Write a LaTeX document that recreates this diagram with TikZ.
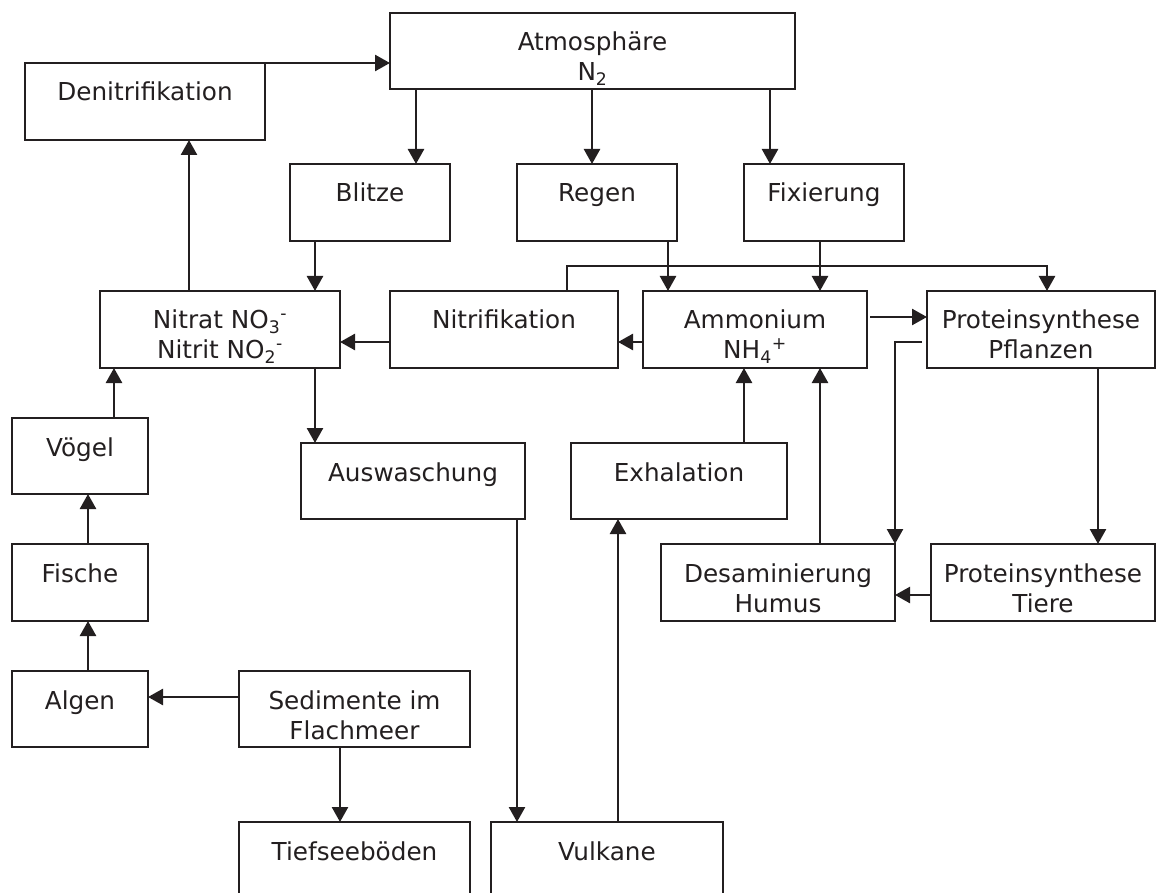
\documentclass[tikz,border=0pt]{standalone}
\usepackage{fontspec}
\setmainfont{DejaVu Sans}
\usetikzlibrary{arrows.meta}
\definecolor{ink}{HTML}{231F20}
\newcommand\bx[6]{%
  \node[box, minimum width={#4-#2}, minimum height={#5-#3}, anchor=north west] (#1) at (#2,#3) {};
  \node[txt] (#1-a) at ({(#2+#4)/2},{#3+38}) {#6};}
\newcommand\bxx[7]{%
  \node[box, minimum width={#4-#2}, minimum height={#5-#3}, anchor=north west] (#1) at (#2,#3) {};
  \node[txt] (#1-a) at ({(#2+#4)/2},{#3+38}) {#6};
  \node[txt] (#1-b) at ({(#2+#4)/2},{#3+68}) {#7};}
\begin{document}
\begin{tikzpicture}[x=1pt,y=-1pt,
  box/.style={draw=ink, line width=2.3pt, inner sep=0pt, outer sep=0pt, fill=none},
  txt/.style={anchor=base, inner sep=0pt, text=ink, font=\fontsize{24.7}{30}\selectfont},
  arr/.style={draw=ink, line width=2.5pt, -{Triangle[length=15pt,width=16pt]}},
  ln/.style={draw=ink, line width=2.5pt}]
\useasboundingbox (0,0) rectangle (1157,893);
\fill[white] (0,0) rectangle (1157,893);
\bxx{atm}{390}{13}{795}{89}{Atmosphäre}{N\textsubscript{2}}
\bx{den}{25}{63}{265}{140}{Denitrifikation}
\bx{bli}{290}{164}{450}{241}{Blitze}
\bx{reg}{517}{164}{677}{241}{Regen}
\bx{fix}{744}{164}{904}{241}{Fixierung}
\bxx{nit}{100}{291}{340}{368}{Nitrat NO\textsubscript{3}\textsuperscript{-}}{Nitrit NO\textsubscript{2}\textsuperscript{-}}
\bx{nif}{390}{291}{618}{368}{Nitrifikation}
\bxx{amm}{643}{291}{867}{368}{Ammonium}{NH\textsubscript{4}\textsuperscript{+}}
\bxx{pp}{927}{291}{1155}{368}{Proteinsynthese}{Pflanzen}
\bx{voe}{12}{418}{148}{494}{Vögel}
\bx{aus}{301}{443}{525}{519}{Auswaschung}
\bx{exh}{571}{443}{787}{519}{Exhalation}
\bx{fis}{12}{544}{148}{621}{Fische}
\bxx{des}{661}{544}{895}{621}{Desaminierung}{Humus}
\bxx{pt}{931}{544}{1155}{621}{Proteinsynthese}{Tiere}
\bx{alg}{12}{671}{148}{747}{Algen}
\bxx{sed}{239}{671}{470}{747}{Sedimente im}{Flachmeer}
\bx{tie}{239}{822}{470}{899}{Tiefseeböden}
\bx{vul}{491}{822}{723}{899}{Vulkane}
% connectors
\draw[arr] (den.north east) -- (den.north east -| atm.west);
\draw[arr] (416,0 |- atm.south) -- (416,0 |- bli.north);
\draw[arr] (592,0 |- atm.south) -- (592,0 |- reg.north);
\draw[arr] (770,0 |- atm.south) -- (770,0 |- fix.north);
\draw[arr] (315,0 |- bli.south) -- (315,0 |- nit.north);
\draw[arr] (668,0 |- reg.south) -- (668,0 |- amm.north);
\draw[arr] (820,0 |- fix.south) -- (820,0 |- amm.north);
\coordinate (split) at (1047,266);
\draw[arr] (567,0 |- nif.north) |- (split) -- (split |- pp.north);
\draw[arr] (189,0 |- nit.north) -- (189,0 |- den.south);
\draw[arr] (nif.west |- 0,342) -- (nit.east |- 0,342);
\draw[arr] (amm.west |- 0,342) -- (nif.east |- 0,342);
\draw[arr] ([xshift=3pt]amm.east |- 0,317) -- (pp.west |- 0,317);
\draw[arr] ([xshift=-5pt]pp.west |- 0,342) -| (des.north east);
\draw[arr] (1098,0 |- pp.south) -- (1098,0 |- pt.north);
\draw[arr] (pt.west |- 0,595) -- (des.east |- 0,595);
\draw[arr] (820,0 |- des.north) -- (820,0 |- amm.south);
\draw[arr] (744,0 |- exh.north) -- (744,0 |- amm.south);
\draw[arr] (315,0 |- nit.south) -- (315,0 |- aus.north);
\draw[arr] (517,0 |- aus.south) -- (517,0 |- vul.north);
\draw[arr] (618,0 |- vul.north) -- (618,0 |- exh.south);
\draw[arr] (114,0 |- voe.north) -- (114,0 |- nit.south);
\draw[arr] (88,0 |- fis.north) -- (88,0 |- voe.south);
\draw[arr] (88,0 |- alg.north) -- (88,0 |- fis.south);
\draw[arr] (sed.west |- 0,697) -- (alg.east |- 0,697);
\draw[arr] (340,0 |- sed.south) -- (340,0 |- tie.north);
\end{tikzpicture}
\end{document}
